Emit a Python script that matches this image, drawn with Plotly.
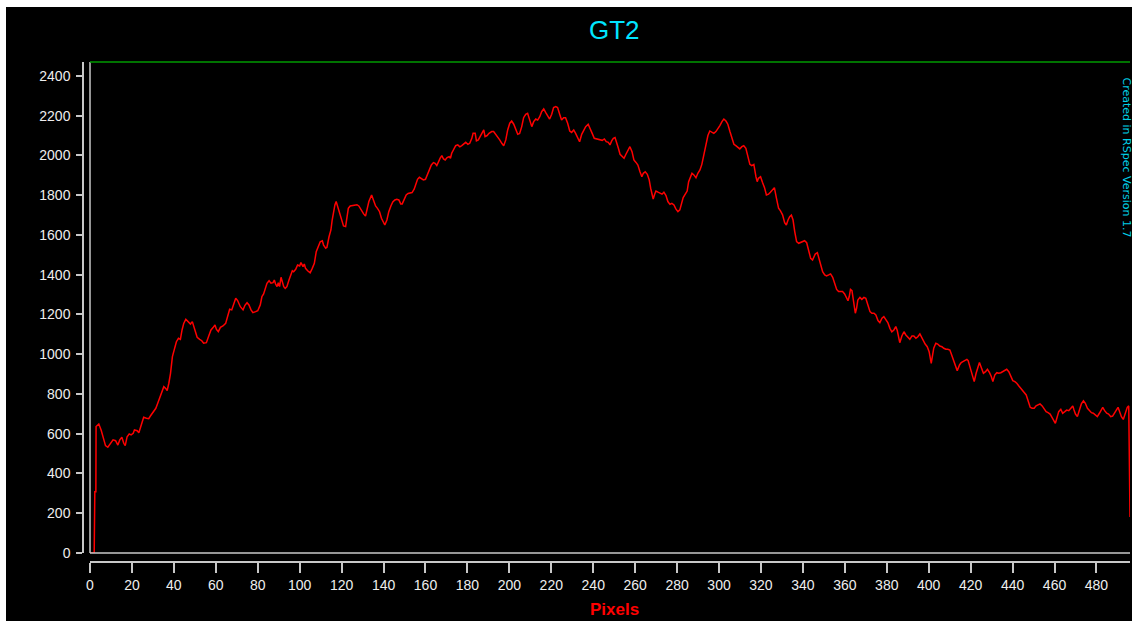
import plotly.graph_objects as go

# ---- data (pixel index vs. intensity) ----
seg1_x = [0, 2.0, 2.3, 2.8, 2.9, 4.2, 5.3, 6.6, 7.4, 8.5, 9.8, 11.0, 12.2, 13.3, 14.2, 15.2, 16.1, 16.8, 17.7, 18.7,
          19.6, 20.6, 21.2, 22.5, 23.3, 24.1, 25.0, 25.6, 26.9, 28.0, 28.8, 30.4, 31.4, 32.3, 33.3, 34.2, 35.2, 36.1,
          36.8, 37.6, 38.4, 39.3, 40.3, 41.2, 42.2, 43.1, 43.9, 44.7, 45.7, 46.6, 47.9, 48.8, 49.8, 51.1, 52.3, 53.3,
          54.2, 55.5, 56.8, 57.7, 58.7, 59.6, 60.3, 61.2, 62.2, 63.4, 64.7, 65.7, 66.6, 67.6, 68.5, 69.5, 70.4, 71.7,
          73.0, 73.9, 74.9, 75.8, 76.8, 77.7, 79.0, 80.0]
seg1_y = [0, 0, 308, 308, 636, 649, 619, 569, 540, 532, 555, 569, 565, 543, 569, 582, 552, 540, 585, 599,
          594, 602, 619, 615, 605, 636, 669, 683, 678, 676, 689, 711, 728, 753, 783, 815, 837, 828,
          817, 854, 904, 988, 1021, 1063, 1080, 1075, 1122, 1155, 1176, 1164, 1152, 1164, 1125, 1085, 1075, 1068,
          1055, 1058, 1097, 1122, 1134, 1147, 1125, 1114, 1135, 1142, 1155, 1189, 1226, 1223, 1248, 1281, 1270, 1239,
          1223, 1246, 1259, 1248, 1223, 1209, 1214, 1219]

seg2_x = [81.2, 82.0, 82.8, 83.6, 84.4, 85.4, 86.3, 87.3, 87.9, 88.5, 89.2, 89.8, 90.4, 91.1, 91.7, 92.4, 93.1, 93.9,
          94.9, 95.8, 96.5, 97.1, 98.1, 99.0, 100.0, 100.6, 101.6, 102.2, 102.8, 103.8, 105.0, 106.0, 107.0, 107.9,
          108.9, 109.8, 110.8, 111.4, 112.4, 113.0, 114.0, 114.9, 115.5, 116.2, 116.8, 117.4, 118.1, 119.0, 120.0,
          120.9, 121.9, 122.5, 123.2, 124.1, 125.1, 126.0, 127.3, 128.2, 129.2, 130.5, 131.4, 132.0, 133.0, 134.3,
          135.2, 136.2, 137.1, 138.1, 139.0, 140.0, 140.6, 141.6, 142.5, 143.5, 144.4, 145.4, 146.3, 147.3, 148.2,
          148.9, 149.8, 150.8, 151.7, 152.7, 153.6, 154.6, 155.5, 156.2, 157.1, 158.1, 159.0, 160.0, 160.9, 161.9,
          162.8, 163.8]
seg2_y = [1248, 1290, 1303, 1331, 1357, 1370, 1357, 1360, 1373, 1353, 1340, 1360, 1340, 1387, 1370, 1340, 1331, 1340,
          1373, 1407, 1420, 1415, 1427, 1449, 1444, 1461, 1441, 1454, 1432, 1420, 1410, 1432, 1457, 1516,
          1541, 1566, 1571, 1549, 1533, 1538, 1591, 1625, 1675, 1726, 1751, 1768, 1742, 1709, 1675,
          1645, 1642, 1684, 1734, 1746, 1749, 1749, 1752, 1746, 1726, 1706, 1695, 1726, 1768, 1801,
          1776, 1746, 1734, 1717, 1684, 1659, 1650, 1675, 1717, 1746, 1766, 1776, 1779, 1776, 1756,
          1756, 1776, 1801, 1809, 1813, 1813, 1830, 1860, 1880, 1890, 1885, 1877, 1880, 1902, 1930,
          1952, 1964]

seg3_x = [164.6, 165.4, 166.2, 167.0, 167.8, 168.6, 169.4, 170.3, 171.3, 171.9, 172.5, 173.5, 174.4, 175.4, 176.4,
          177.3, 178.3, 179.2, 180.2, 181.1, 182.1, 182.7, 183.7, 184.3, 185.2, 186.2, 186.8, 187.8, 188.4, 189.4,
          190.3, 191.6, 192.5, 193.5, 194.5, 195.4, 196.4, 197.3, 198.3, 199.2, 200.2, 201.1, 202.1, 203.0, 204.0,
          204.9, 205.9, 206.8, 207.8, 208.7, 209.7, 210.7, 211.6, 212.6, 213.5, 214.5, 215.4, 216.4, 217.3, 218.3,
          219.2, 220.2, 221.1, 222.1, 223.0, 224.0, 224.9, 225.9, 226.8, 227.8, 228.8, 229.7, 230.7, 231.6, 232.6,
          233.5, 234.5, 235.4, 236.4, 237.6, 238.6, 239.5, 240.5, 241.5, 242.4, 243.4, 244.3, 245.3, 246.2, 247.2]
seg3_y = [1960, 1949, 1969, 1986, 1999, 1982, 1977, 1989, 1994, 1986, 2011, 2033, 2049, 2053, 2043,
          2049, 2059, 2066, 2056, 2061, 2086, 2111, 2111, 2073, 2078, 2095, 2111, 2128, 2095, 2100,
          2111, 2120, 2120, 2106, 2095, 2078, 2061, 2049, 2078, 2128, 2162, 2173, 2157, 2133, 2106,
          2110, 2145, 2190, 2207, 2212, 2178, 2145, 2170, 2183, 2178, 2195, 2220, 2234, 2217, 2195,
          2183, 2207, 2241, 2246, 2241, 2207, 2178, 2190, 2190, 2162, 2123, 2116, 2128, 2111, 2086,
          2069, 2106, 2128, 2145, 2157, 2137, 2111, 2086, 2083, 2083, 2078, 2076, 2083, 2069, 2066]

seg4_x = [248.0, 248.8, 249.6, 250.4, 251.2, 252.0, 252.8, 253.7, 254.7, 255.6, 256.6, 257.5, 258.5, 259.4, 260.4,
          261.3, 262.3, 263.2, 263.9, 264.8, 265.8, 266.7, 267.4, 268.0, 268.6, 269.3, 269.9, 270.9, 271.8, 272.8,
          273.7, 274.7, 275.6, 276.6, 277.5, 278.5, 279.4, 280.4, 281.3, 282.0, 282.9, 283.9, 284.8, 285.5, 286.1,
          287.1, 288.0, 289.0, 289.9, 290.9, 291.8, 292.8, 293.7, 294.7, 295.6, 296.6, 297.5, 298.5, 299.5, 300.4,
          301.4, 302.3, 303.3, 304.2, 305.2, 306.1, 307.1, 308.0, 309.0, 309.9, 310.9, 311.8, 312.8, 313.7, 314.7,
          315.6, 316.6, 317.6, 318.2, 318.8, 319.8, 320.7, 321.7, 322.6, 323.6, 324.5, 325.5, 326.4, 327.4, 328.4,
          329.3, 330.3]
seg4_y = [2053, 2073, 2086, 2090, 2066, 2036, 2006, 1994, 1986, 2006, 2028, 2044, 2019, 1977, 1965,
          1952, 1918, 1893, 1910, 1918, 1905, 1877, 1835, 1798, 1781, 1805, 1821, 1815, 1809, 1805,
          1815, 1798, 1768, 1754, 1759, 1751, 1731, 1717, 1726, 1751, 1788, 1805, 1821, 1868, 1888,
          1910, 1902, 1888, 1910, 1927, 1955, 2002, 2053, 2100, 2123, 2116, 2111, 2120, 2133, 2150,
          2170, 2183, 2173, 2157, 2120, 2086, 2056, 2049, 2039, 2033, 2044, 2049, 2036, 1994, 1955,
          1949, 1955, 1893, 1868, 1885, 1893, 1865, 1838, 1801, 1805, 1815, 1826, 1838, 1784, 1734,
          1721, 1701]

seg5_x = [331.3, 332.1, 332.9, 333.7, 334.5, 335.3, 336.1, 337.0, 338.0, 338.9, 339.9, 340.8, 341.8, 342.7, 343.7,
          344.6, 345.3, 345.9, 346.9, 347.5, 348.5, 349.4, 350.4, 351.3, 352.3, 353.2, 354.2, 355.1, 356.1, 357.0,
          358.0, 358.9, 359.9, 360.8, 361.5, 362.1, 362.7, 363.4, 364.0, 364.7, 365.0, 365.6, 366.2, 367.2, 368.1,
          369.1, 370.0, 371.0, 372.0, 372.9, 373.9, 374.8, 375.8, 376.7, 377.7, 378.6, 379.6, 380.5, 381.5, 382.4,
          383.4, 384.3, 385.0, 385.6, 386.2, 387.2, 388.2, 389.1, 390.1, 391.0, 392.0, 392.9, 393.9, 394.8, 395.8,
          396.4, 397.4, 398.3, 399.3, 400.2, 401.2, 401.8, 402.4, 403.4, 404.3, 405.3, 406.3, 407.2, 408.2, 409.1,
          410.1, 410.7, 411.7, 412.6, 413.6]
seg5_y = [1662, 1650, 1675, 1692, 1700, 1675, 1617, 1566, 1558, 1561, 1565, 1571, 1561, 1524, 1482,
          1474, 1491, 1504, 1511, 1487, 1449, 1415, 1399, 1394, 1399, 1404, 1387, 1357, 1326, 1315,
          1315, 1315, 1303, 1281, 1269, 1290, 1326, 1320, 1273, 1239, 1206, 1231, 1273, 1286, 1276,
          1286, 1281, 1248, 1214, 1206, 1206, 1197, 1169, 1159, 1181, 1189, 1172, 1159, 1130, 1113,
          1122, 1139, 1119, 1088, 1058, 1092, 1113, 1097, 1088, 1075, 1092, 1092, 1080, 1088, 1102,
          1088, 1063, 1051, 1038, 1013, 954, 988, 1030, 1055, 1051, 1041, 1038, 1030, 1025, 1025,
          1021, 1004, 971, 946, 917]

seg6_x = [414.7, 415.5, 416.3, 417.2, 418.2, 418.8, 419.8, 420.7, 421.7, 422.6, 423.6, 424.2, 425.2, 426.1, 427.1,
          428.0, 429.0, 429.9, 430.6, 431.5, 432.5, 433.4, 434.4, 435.3, 436.3, 437.2, 438.2, 439.2, 440.1, 441.1,
          442.0, 443.0, 443.9, 444.9, 445.8, 446.5, 447.4, 448.4, 449.3, 450.3, 451.2, 452.2, 453.1, 454.1, 455.0,
          456.0, 456.9, 457.9, 458.8, 459.8, 460.4, 461.1, 462.0, 463.0, 463.9, 464.9, 465.8, 466.8, 467.7, 468.7,
          469.3, 470.0, 470.9, 471.9, 472.8, 473.8, 474.7, 475.7, 476.6, 477.6, 478.5, 479.5, 480.4, 481.4, 482.3,
          483.0, 483.9, 484.9, 485.8, 486.8, 487.7, 488.7, 489.7, 490.3, 490.9, 491.9, 492.8, 493.8, 494.7, 495.4,
          495.6, 496.0]
seg6_y = [946, 958, 963, 968, 974, 968, 929, 887, 862, 904, 946, 958, 929, 904, 912,
          924, 907, 887, 862, 895, 907, 904, 907, 912, 921, 924, 912, 887, 867, 862,
          854, 840, 828, 812, 800, 795, 766, 733, 728, 728, 740, 745, 750, 740, 723,
          711, 706, 699, 682, 661, 652, 678, 711, 723, 703, 711, 719, 716, 728, 740,
          719, 699, 686, 723, 750, 766, 753, 728, 716, 706, 703, 694, 686, 703, 723,
          733, 716, 703, 699, 686, 689, 703, 723, 733, 716, 686, 672, 703, 733, 740,
          558, 181]

pixels = seg1_x + seg2_x + seg3_x + seg4_x + seg5_x + seg6_x
counts = seg1_y + seg2_y + seg3_y + seg4_y + seg5_y + seg6_y

x_ticks = list(range(0, 481, 20))
y_ticks = list(range(0, 2401, 200))

title_text = "GT2"
x_title = "Pixels"
credit_text = "Created in RSpec Version 1.7"

# ---- layout geometry (window pixels; the page margin is removed by the post script) ----
W, H = 1132, 621
ML = 83                  # y-axis line at x = 83
MT = 62                  # top of plot (green line) at y = 62
MR = 2
MB = H - 562             # x-axis line at y = 562
PW = W - ML - MR
PH = H - MT - MB
x_dom0 = (90 - ML) / PW          # plot frame left edge at x = 90
y_dom0 = (562 - 553) / PH        # plot frame bottom at y = 553


def px(xw):
    return (xw - ML) / PW


def py(yw):
    return (H - MB - yw) / PH


AX = "#c8c8c8"
TICKFONT = dict(family="Arial, Liberation Sans, sans-serif", size=14, color="#eeeeee")

fig = go.Figure()
fig.add_trace(go.Scatter(x=pixels, y=counts, mode="lines",
                         line=dict(color="#ff0000", width=1.5), showlegend=False,
                         hoverinfo="x+y"))

fig.update_layout(
    width=W, height=H,
    margin=dict(l=ML, r=MR, t=MT, b=MB, pad=0),
    paper_bgcolor="white", plot_bgcolor="black",
    xaxis=dict(domain=[x_dom0, 1], range=[0, 496], anchor="free", position=0,
               showline=True, linecolor=AX, linewidth=1.5, mirror=False,
               ticks="outside", ticklen=10, tickwidth=1.5, tickcolor=AX,
               tickvals=x_ticks, ticktext=[str(v) for v in x_ticks],
               showgrid=False, zeroline=False, tickfont=TICKFONT),
    yaxis=dict(domain=[y_dom0, 1], range=[0, 2470], anchor="free", position=0,
               showline=True, linecolor=AX, linewidth=1.5,
               ticks="outside", ticklen=6, tickwidth=1.5, tickcolor=AX,
               tickvals=y_ticks, ticktext=[str(v) for v in y_ticks],
               showgrid=False, zeroline=False, tickfont=TICKFONT,
               ticklabelstandoff=3),
)

shapes = [
    # black window background, leaving the thin white strip at the top / left as in the reference
    dict(type="rect", xref="paper", yref="paper", x0=px(6), x1=px(W + 2), y0=py(H + 2), y1=py(7),
         fillcolor="black", line=dict(width=0), layer="below"),
    dict(type="line", xref="paper", yref="paper", x0=x_dom0, x1=x_dom0, y0=y_dom0, y1=1,
         line=dict(color=AX, width=1.5)),
    dict(type="line", xref="paper", yref="paper", x0=x_dom0, x1=1, y0=y_dom0, y1=y_dom0,
         line=dict(color=AX, width=1.5)),
    dict(type="line", xref="paper", yref="paper", x0=x_dom0, x1=1, y0=1, y1=1,
         line=dict(color="#009a00", width=1.5)),
]
fig.update_layout(shapes=shapes)

fig.add_annotation(text=title_text, xref="paper", yref="paper", x=px(614), y=py(30),
                   xanchor="center", yanchor="middle", showarrow=False,
                   font=dict(family="Arial, Liberation Sans, sans-serif", size=26, color="#00e5ff"))
fig.add_annotation(text="<b>%s</b>" % x_title, xref="paper", yref="paper", x=px(614), y=py(609.5),
                   xanchor="center", yanchor="middle", showarrow=False,
                   font=dict(family="Arial, Liberation Sans, sans-serif", size=17, color="#ff0000"))
fig.add_annotation(text=credit_text, xref="paper", yref="paper", x=px(1126.5), y=py(75),
                   xanchor="center", yanchor="top", textangle=90, showarrow=False,
                   font=dict(family="DejaVu Sans, Verdana, sans-serif", size=11, color="#00d0e8"))

fig.write_html(
    "out.html",
    config={"displayModeBar": False},
    post_script="document.body.style.margin='0';document.body.style.overflow='hidden';"
                "document.documentElement.style.overflow='hidden';",
)
